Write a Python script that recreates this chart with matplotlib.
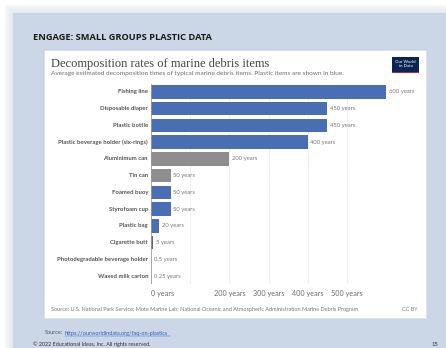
import matplotlib.pyplot as plt
from matplotlib.patches import Rectangle
from matplotlib.transforms import blended_transform_factory

# decomposition times in years, top to bottom
items = ["Fishing line", "Disposable diaper", "Plastic bottle",
         "Plastic beverage holder (six-rings)", "Aluminimum can", "Tin can",
         "Foamed buoy", "Styrofoam cup", "Plastic bag", "Cigarette butt",
         "Photodegradable beverage holder", "Waxed milk carton"]
years = [600, 450, 450, 400, 200, 50, 50, 50, 20, 5, 0.5, 0.25]
value_labels = ["600 years", "450 years", "450 years", "400 years", "200 years",
                "50 years", "50 years", "50 years", "20 years", "5 years",
                "0.5 years", "0.25 years"]
is_plastic = [True, True, True, True, False, False, True, True, True, False, True, False]
tick_values = [0, 200, 300, 400, 500]
tick_labels = ["0 years", "200 years", "300 years", "400 years", "500 years"]
grid_values = [100, 200, 300, 400, 500, 600]

BLUE = "#4a6eb4"
GREY = "#8e8e8e"
PAGE = "#cbd6e7"
W, H = 446, 348

fig = plt.figure(figsize=(W / 100, H / 100), dpi=100)
fig.patch.set_facecolor("white")

# page background in pixel coordinates
bg = fig.add_axes([0, 0, 1, 1])
bg.set_xlim(0, W)
bg.set_ylim(H, 0)
bg.axis("off")

# soft shadow round the page
for i in range(10):
    bg.add_patch(Rectangle((13 - i, 13 - i), W, H, facecolor="#9aa0a8",
                           alpha=0.025, edgecolor="none"))
bg.add_patch(Rectangle((13, 13), W, H, facecolor=PAGE, edgecolor="none"))

bg.text(33, 37, "ENGAGE: SMALL GROUPS PLASTIC DATA", fontsize=6.7,
        family="Open Sans", weight="bold", color="#1a1a1a", va="center", ha="left")

# white chart card
for i in range(3):
    bg.add_patch(Rectangle((44 - i * 0.5, 50 - i * 0.5), 382 + i, 268 + i,
                           facecolor="#8a94a3", alpha=0.08, edgecolor="none"))
bg.add_patch(Rectangle((44, 50), 382, 268, facecolor="white", edgecolor="#dfe3ea", lw=0.5))

bg.text(51, 67.5, "Decomposition rates of marine debris items", fontsize=9.0,
        family="Liberation Serif", color="#444444", va="baseline", ha="left")
bg.text(51, 73, "Average estimated decomposition times of typical marine debris items. "
        "Plastic items are shown in blue.", fontsize=4.65, family="Lato",
        color="#6e6e6e", va="center", ha="left")

# logo
bg.add_patch(Rectangle((392, 57), 27, 16, facecolor="#0b2552", edgecolor="none"))
bg.add_patch(Rectangle((392, 71.5), 27, 1.5, facecolor="#ce261e", edgecolor="none"))
bg.text(405.5, 64, "Our World\nin Data", fontsize=3.2, family="Lato", color="white",
        ha="center", va="center", linespacing=0.95)

bg.text(51, 309.5, "Source: U.S. National Park Service; Mote Marine Lab; National Oceanic "
        "and Atmospheric Administration Marine Debris Program", fontsize=4.0,
        family="Lato", color="#7a7a7a", va="center", ha="left")
bg.text(418, 309.5, "CC BY", fontsize=4.0, family="Lato", color="#7a7a7a",
        va="center", ha="right")

# page footer
bg.text(45, 333, "Source:", fontsize=4.0, family="Lato", color="#555555", va="center")
bg.text(65, 333, "https://ourworldindata.org/faq-on-plastics", fontsize=4.0,
        family="Lato", color="#2f5fc4", va="center")
bg.plot([65, 170], [335.5, 335.5], color="#2f5fc4", lw=0.3)
bg.text(33, 344.2, "\u00a9 2022 Educational Ideas, Inc. All rights reserved.", fontsize=3.9,
        family="Lato", color="#333333", va="center")
bg.text(435, 344.2, "15", fontsize=4.2, family="Lato", color="#333333", va="center", ha="center")

# bar chart
left, right, top, bottom = 151, 386, 83.6, 284.4
ax = fig.add_axes([left / W, 1 - bottom / H, (right - left) / W, (bottom - top) / H])
ax.set_facecolor("none")
ax.set_xlim(0, 600)
ax.set_ylim(len(items) - 0.5, -0.5)

for g in grid_values:
    ax.axvline(g, color="#d9d9d9", lw=0.5, ls=(0, (1, 1)), zorder=0)
ax.axvline(0, color="#9a9a9a", lw=0.6, zorder=3)

pos = list(range(len(items)))
colors = []
for name, plastic in zip(items, is_plastic):
    if name == "Cigarette butt":
        colors.append("#666666")
    else:
        colors.append(BLUE if plastic else GREY)
ax.barh(pos, years, height=0.8, color=colors, zorder=2)

for p, v, lab in zip(pos, years, value_labels):
    ax.text(v + 7, p, lab, fontsize=4.2, family="Lato", color="#777777",
            va="center", ha="left", clip_on=False)

trans = blended_transform_factory(fig.transFigure, ax.transData)
for p, name in zip(pos, items):
    ax.text(148 / W, p, name, transform=trans, fontsize=4.3, family="Lato",
            weight="bold", color="#555555", va="center", ha="right")

ax.set_yticks([])
ax.set_xticks(tick_values)
ax.set_xticklabels(tick_labels, fontsize=5.2, family="Lato", color="#6a6a6a")
ax.get_xticklabels()[0].set_horizontalalignment("left")
ax.tick_params(axis="x", length=0, pad=4)
for s in ax.spines.values():
    s.set_visible(False)

fig.savefig("out.png", dpi=100)
